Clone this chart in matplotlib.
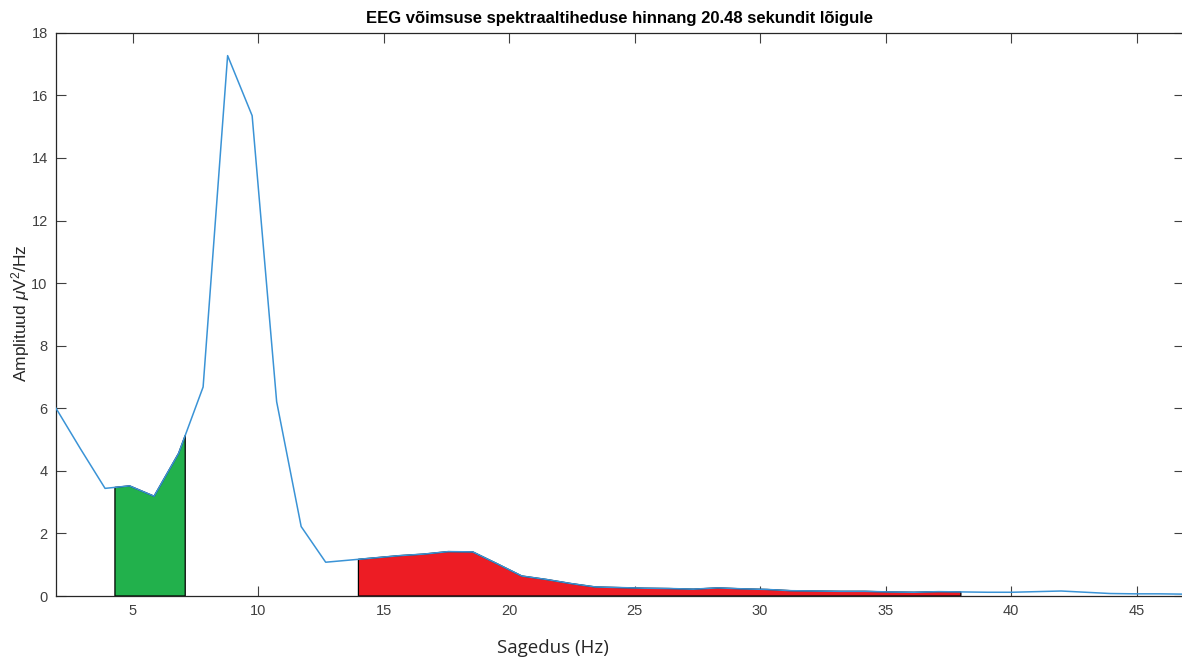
import numpy as np
import matplotlib.pyplot as plt

# EEG PSD estimate, fs = 250 Hz, 256-point bins (k = 2..48)
freq = np.arange(2, 49) * 250 / 256
psd = [6.00, 4.70, 3.44, 3.52, 3.19, 4.56, 6.68, 17.27, 15.35, 6.21,
       2.22, 1.08, 1.15, 1.22, 1.29, 1.34, 1.42, 1.41, 1.03, 0.64,
       0.53, 0.40, 0.29, 0.27, 0.25, 0.24, 0.22, 0.26, 0.23, 0.21,
       0.17, 0.16, 0.15, 0.15, 0.13, 0.12, 0.14, 0.13, 0.12, 0.12,
       0.14, 0.16, 0.12, 0.08, 0.07, 0.07, 0.06]

theta_band = [4.3, 7.1]
beta_band = [14.0, 38.0]

x_ticks = [5, 10, 15, 20, 25, 30, 35, 40, 45]
y_ticks = [0, 2, 4, 6, 8, 10, 12, 14, 16, 18]

title = "EEG võimsuse spektraaltiheduse hinnang 20.48 sekundit lõigule"
xlab = "Sagedus (Hz)"
ylab = r"Amplituud $\mu$V$^2$/Hz"

plt.rcParams['font.family'] = ['Liberation Sans', 'DejaVu Sans']
plt.rcParams['mathtext.fontset'] = 'custom'
plt.rcParams['mathtext.rm'] = 'Liberation Sans'
plt.rcParams['mathtext.it'] = 'Liberation Sans:italic'

fig = plt.figure(figsize=(11.82, 6.58), dpi=100)
ax = fig.add_axes([0.0474, 0.0942, 0.954, 0.856])

freq = np.asarray(freq)
psd = np.asarray(psd)


def band_fill(lo, hi, color):
    inner = freq[(freq > lo) & (freq < hi)]
    xs = np.concatenate([[lo], inner, [hi]])
    ys = np.interp(xs, freq, psd)
    px = np.concatenate([[lo], xs, [hi]])
    py = np.concatenate([[0], ys, [0]])
    ax.fill(px, py, facecolor=color, edgecolor="black", linewidth=0.9, zorder=2)


band_fill(theta_band[0], theta_band[1], "#22B14C")
band_fill(beta_band[0], beta_band[1], "#ED1C24")

ax.plot(freq, psd, color="#3A93D6", linewidth=1.1, zorder=3)

ax.set_xlim(freq[0], freq[-1])
ax.set_ylim(0, 18)
ax.set_xticks(x_ticks)
ax.set_yticks(y_ticks)
ax.tick_params(direction="in", length=7, width=0.8, top=True, right=True,
               colors="#404040", labelsize=10.5, pad=6)
for s in ax.spines.values():
    s.set_color("#262626")
    s.set_linewidth(0.9)

ax.set_title(title, fontsize=12, fontweight="bold", pad=7, color="black")
fig.text(0.468, 0.015, xlab, fontsize=13.5, family=["Open Sans", "DejaVu Sans"],
         ha="center", va="center", color="#262626")
fig.text(0.017, 0.524, ylab, fontsize=12.5, rotation=90, ha="center", va="center",
         color="#262626")

fig.savefig("out.png", dpi=100)
